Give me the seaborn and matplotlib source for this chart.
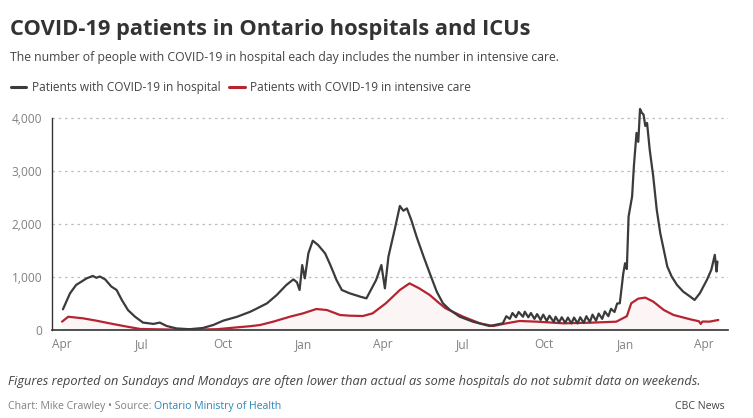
import matplotlib
matplotlib.use("Agg")
import matplotlib.pyplot as plt
import seaborn as sns
import pandas as pd
from matplotlib.lines import Line2D

# ---------------- data ----------------
hosp_dates = [
    "2020-04-02", "2020-04-10", "2020-04-17", "2020-04-29", "2020-05-06", "2020-05-10",
    "2020-05-14", "2020-05-20", "2020-05-27", "2020-06-02", "2020-06-08", "2020-06-15",
    "2020-06-23", "2020-07-02", "2020-07-14", "2020-07-21", "2020-07-29", "2020-08-09",
    "2020-08-24", "2020-09-08", "2020-09-20", "2020-10-01", "2020-10-17", "2020-11-01",
    "2020-11-05", "2020-11-20", "2020-12-01", "2020-12-12", "2020-12-20", "2020-12-24",
    "2020-12-27", "2020-12-30", "2021-01-02", "2021-01-06", "2021-01-11", "2021-01-17",
    "2021-01-25", "2021-01-31", "2021-02-07", "2021-02-13", "2021-02-22", "2021-03-06",
    "2021-03-13", "2021-03-17", "2021-03-24", "2021-03-30", "2021-04-03", "2021-04-07",
    "2021-04-14", "2021-04-20", "2021-04-24", "2021-04-28", "2021-05-03", "2021-05-09",
    "2021-05-17", "2021-05-24", "2021-06-01", "2021-06-08", "2021-06-16", "2021-06-27",
    "2021-07-12", "2021-07-31", "2021-08-15",
    "2021-08-19", "2021-08-23", "2021-08-26", "2021-08-30", "2021-09-02", "2021-09-07",
    "2021-09-09", "2021-09-13", "2021-09-16", "2021-09-20", "2021-09-23", "2021-09-27",
    "2021-09-30", "2021-10-04", "2021-10-07", "2021-10-12", "2021-10-14", "2021-10-18",
    "2021-10-21", "2021-10-25", "2021-10-28", "2021-11-01", "2021-11-04", "2021-11-08",
    "2021-11-11", "2021-11-15", "2021-11-18", "2021-11-22", "2021-11-25", "2021-11-29",
    "2021-12-02", "2021-12-06", "2021-12-09", "2021-12-13", "2021-12-16", "2021-12-20",
    "2021-12-23", "2021-12-26", "2021-12-30", "2022-01-01", "2022-01-03", "2022-01-05",
    "2022-01-09", "2022-01-11", "2022-01-14", "2022-01-16", "2022-01-18", "2022-01-20",
    "2022-01-22", "2022-01-24", "2022-01-26", "2022-01-29", "2022-02-02", "2022-02-06",
    "2022-02-10", "2022-02-14", "2022-02-18", "2022-02-23", "2022-03-01", "2022-03-08",
    "2022-03-16", "2022-03-21", "2022-03-27", "2022-04-04", "2022-04-09", "2022-04-13",
    "2022-04-15", "2022-04-16",
]
hosp_values = [
    390, 690, 850, 975, 1020, 985,
    1010, 955, 820, 755, 565, 375,
    250, 140, 115, 140, 75, 30,
    15, 38, 95, 175, 250, 345,
    377, 503, 660, 850, 955, 900,
    755, 1225, 975, 1447, 1685, 1604,
    1447, 1226, 943, 755, 692, 629,
    597, 723, 943, 1226, 786, 1384,
    1887, 2340, 2250, 2295, 2075, 1760,
    1384, 1070, 720, 503, 377, 251,
    157, 75, 126,
    260, 210, 320, 240, 340, 250,
    345, 240, 320, 210, 300, 190,
    290, 170, 270, 150, 250, 145,
    240, 135, 235, 125, 235, 125,
    240, 135, 260, 150, 290, 175,
    310, 210, 350, 260, 400, 340,
    500, 504, 1071, 1260, 1150, 2142,
    2520, 3088, 3718, 3550, 4171, 4100,
    4064, 3850, 3907, 3403, 2899, 2268,
    1827, 1512, 1197, 1008, 851, 725,
    630, 567, 693, 945, 1134, 1418,
    1103, 1292,
]

icu_dates = [
    "2020-04-01", "2020-04-08", "2020-04-25", "2020-05-10", "2020-05-29", "2020-06-14",
    "2020-06-29", "2020-07-30", "2020-08-30", "2020-09-24", "2020-10-17", "2020-11-01",
    "2020-11-12", "2020-11-27", "2020-12-16", "2020-12-31", "2021-01-15", "2021-01-27",
    "2021-02-11", "2021-02-22", "2021-03-09", "2021-03-20", "2021-04-04", "2021-04-20",
    "2021-05-01", "2021-05-12", "2021-05-24", "2021-06-04", "2021-06-11", "2021-07-01",
    "2021-07-20", "2021-08-04", "2021-08-19", "2021-09-03", "2021-09-23", "2021-10-23",
    "2021-11-23", "2021-12-22", "2022-01-03", "2022-01-08", "2022-01-16", "2022-01-24",
    "2022-02-02", "2022-02-14", "2022-02-25", "2022-03-16", "2022-03-26", "2022-03-28",
    "2022-03-30", "2022-04-07", "2022-04-17",
]
icu_values = [
    157, 250, 220, 176, 113, 63,
    19, 10, 8, 15, 50, 72,
    94, 157, 251, 314, 396, 377,
    283, 270, 264, 314, 503, 755,
    880, 786, 660, 503, 409, 251,
    126, 75, 126, 170, 157, 126,
    138, 157, 260, 504, 592, 611,
    536, 378, 284, 202, 165, 115,
    160, 158, 189,
]

y_ticks = [0, 1000, 2000, 3000, 4000]
y_tick_labels = ["0", "1,000", "2,000", "3,000", "4,000"]
x_tick_dates = ["2020-04-01", "2020-07-01", "2020-10-01", "2021-01-01", "2021-04-01",
                "2021-07-01", "2021-10-01", "2022-01-01", "2022-04-01"]
x_tick_labels = ["Apr", "Jul", "Oct", "Jan", "Apr", "Jul", "Oct", "Jan", "Apr"]

series_names = ["Patients with COVID-19 in hospital", "Patients with COVID-19 in intensive care"]
title = "COVID-19 patients in Ontario hospitals and ICUs"
subtitle = "The number of people with COVID-19 in hospital each day includes the number in intensive care."
note = "Figures reported on Sundays and Mondays are often lower than actual as some hospitals do not submit data on weekends."
credit = "Chart: Mike Crawley \u2022 Source: "
source = "Ontario Ministry of Health"
brand = "CBC News"

# ---------------- style ----------------
HOSP_C = "#3b3b3b"
ICU_C = "#b52430"

sns.set_theme(style="white")
plt.rcParams["font.family"] = ["Open Sans", "DejaVu Sans"]

W, H = 753, 418
fig = plt.figure(figsize=(W / 100, H / 100), dpi=100)
ax = fig.add_axes([52 / W, 1 - 330 / H, (728 - 52) / W, (330 - 107.4) / H])

hosp = pd.DataFrame({"date": pd.to_datetime(hosp_dates), "value": hosp_values})
icu = pd.DataFrame({"date": pd.to_datetime(icu_dates), "value": icu_values})

ax.fill_between(icu["date"], icu["value"], 0, color=ICU_C, alpha=0.045, lw=0, zorder=1)
sns.lineplot(data=icu, x="date", y="value", color=ICU_C, lw=1.6, ax=ax, zorder=3)
sns.lineplot(data=hosp, x="date", y="value", color=HOSP_C, lw=1.6, ax=ax, zorder=4)

ax.set_xlim(pd.Timestamp("2020-03-20 14:00"), pd.Timestamp("2022-04-28"))
ax.set_ylim(0, 4200)
ax.set_xlabel("")
ax.set_ylabel("")

ax.set_yticks(y_ticks)
ax.set_yticklabels(y_tick_labels)
ax.set_xticks(pd.to_datetime(x_tick_dates))
ax.set_xticklabels(x_tick_labels)
ax.tick_params(axis="y", length=0, pad=7, labelsize=8.6, labelcolor="#808080")
ax.tick_params(axis="x", length=0, pad=6, labelsize=8.6, labelcolor="#808080")

for yv in y_ticks[1:]:
    ax.axhline(yv, color="#bdbdbd", lw=0.9, ls=(0, (2, 3)), zorder=0)

for s in ["top", "right"]:
    ax.spines[s].set_visible(False)
ax.spines["left"].set_color("#333333")
ax.spines["left"].set_linewidth(1.0)
ax.spines["left"].set_bounds(0, 4000)
ax.spines["bottom"].set_color("#333333")
ax.spines["bottom"].set_linewidth(1.2)
ax.set_zorder(2)

# ---------------- texts ----------------
def fx(px):
    return px / W

def fy(py):
    return 1 - py / H

t_title = fig.text(fx(10), fy(34.5), title, fontsize=15, fontweight="bold",
                   color="#333333", va="baseline", ha="left")
t_sub = fig.text(fx(10), fy(61), subtitle, fontsize=8.5, color="#444444",
                 va="baseline", ha="left")

fig.add_artist(Line2D([fx(11), fx(26)], [fy(87), fy(87)], color=HOSP_C, lw=2.2))
t_leg1 = fig.text(fx(32), fy(91), series_names[0], fontsize=8.3, color="#444444",
                  va="baseline", ha="left")
fig.add_artist(Line2D([fx(229), fx(245)], [fy(87), fy(87)], color=ICU_C, lw=2.2))
t_leg2 = fig.text(fx(250), fy(91), series_names[1], fontsize=8.3, color="#444444",
                  va="baseline", ha="left")

t_note = fig.text(fx(8), fy(385), note, fontsize=8.5, color="#444444", style="italic",
                  va="baseline", ha="left")
t_credit = fig.text(fx(8), fy(409), credit, fontsize=8.5, color="#808080",
                    va="baseline", ha="left")
t_brand = fig.text(fx(725), fy(409), brand, fontsize=8.5, color="#444444",
                   va="baseline", ha="right")

fig.canvas.draw()
r = fig.canvas.get_renderer()

def fit(t, width_px):
    bb = t.get_window_extent(r)
    t.set_fontsize(t.get_fontsize() * width_px / bb.width)

fit(t_title, 523)
fit(t_sub, 547)
fit(t_leg2, 222)
t_leg1.set_fontsize(t_leg2.get_fontsize())
fit(t_note, 689)
fit(t_brand, 49)
t_credit.set_fontsize(t_brand.get_fontsize())
fig.canvas.draw()
cb = t_credit.get_window_extent(r)
t_src = fig.text(cb.x1 / W, fy(409), source, fontsize=t_credit.get_fontsize(),
                 color="#2a86b8", va="baseline", ha="left")

fig.savefig("out.png", dpi=100)
